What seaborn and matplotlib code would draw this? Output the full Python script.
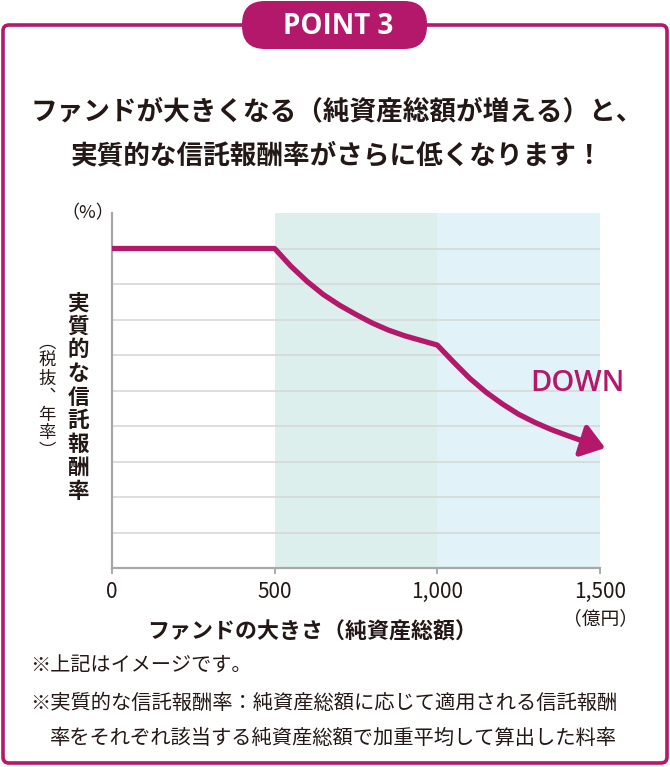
import seaborn as sns
import matplotlib.pyplot as plt
import pandas as pd
from matplotlib.patches import FancyBboxPatch

# data (y in grid units, 10 steps)
fund_size = [0, 500, 550, 600, 650, 700, 750, 800, 850, 900, 950, 1000,
             1050, 1100, 1150, 1200, 1250, 1300, 1350, 1400, 1440]
fee_rate = [9.0, 9.0, 8.5, 8.07, 7.7, 7.4, 7.14, 6.9, 6.7, 6.54, 6.41, 6.28,
            5.8, 5.34, 4.95, 4.62, 4.33, 4.1, 3.9, 3.73, 3.6]
arrow_tip = (1516, 3.38)
zone_edges = [500, 1000, 1500]
zone_colors = ['#dcefec', '#e1f2f9']
x_ticks = [0, 500, 1000, 1500]
x_tick_labels = ['0', '500', '1,000', '1,500']
grid_levels = [1, 2, 3, 4, 5, 6, 7, 8, 9]

MAGENTA = '#b3186b'
INK = '#231815'
sns.set_theme(style='white')
plt.rcParams['font.family'] = ['Noto Sans CJK JP', 'DejaVu Sans']

fig = plt.figure(figsize=(6.7, 7.67), dpi=100)

# overlay in pixel coordinates for frame and texts
ov = fig.add_axes([0, 0, 1, 1], zorder=0)
ov.set_xlim(0, 670)
ov.set_ylim(767, 0)
ov.axis('off')

ov.add_patch(FancyBboxPatch((3, 25), 664, 738, boxstyle='round,pad=0,rounding_size=6',
                            fc='white', ec=MAGENTA, lw=2.6))
ov.add_patch(FancyBboxPatch((242, 1), 185, 48, boxstyle='round,pad=0,rounding_size=23',
                            fc=MAGENTA, ec='none'))
ov.text(338, 26, 'POINT 3', color='white', fontsize=20, fontweight='bold',
        ha='center', va='center', family=['Open Sans', 'DejaVu Sans'])

ov.text(337, 112, 'ファンドが大きくなる（純資産総額が増える）と、', fontsize=19.2,
        fontweight='bold', ha='center', va='center', color=INK)
ov.text(337, 156, '実質的な信託報酬率がさらに低くなります！', fontsize=19.2,
        fontweight='bold', ha='center', va='center', color=INK)

ov.text(88, 213, '（%）', fontsize=13, ha='center', va='center', color=INK)
ov.text(78, 397, '\n'.join('実質的な信託報酬率'), fontsize=15.5, fontweight='bold',
        ha='center', va='center', linespacing=1.15, color=INK)
ov.text(47, 397, '\n'.join('︵税抜︑年率︶'), fontsize=12.5, ha='center', va='center',
        linespacing=1.0, color=INK)

ov.text(600, 619, '（億円）', fontsize=13.5, ha='center', va='center', color=INK)
ov.text(312, 632, 'ファンドの大きさ（純資産総額）', fontsize=15.8, fontweight='bold',
        ha='center', va='center', color=INK)

ov.text(30, 666, '※上記はイメージです。', fontsize=14.5, ha='left', va='center', color=INK)
ov.text(30, 703, '※実質的な信託報酬率：純資産総額に応じて適用される信託報酬',
        fontsize=14.6, ha='left', va='center', color=INK)
ov.text(50, 738, '率をそれぞれ該当する純資産総額で加重平均して算出した料率',
        fontsize=14.6, ha='left', va='center', color=INK)

# main chart
ax = fig.add_axes([112 / 670, 1 - 568 / 767, 488 / 670, 355 / 767], zorder=2)
ax.patch.set_alpha(0)
for (x0, x1), c in zip(zip(zone_edges[:-1], zone_edges[1:]), zone_colors):
    ax.axvspan(x0, x1, color=c, lw=0, zorder=0)
for g in grid_levels:
    ax.axhline(g, color='#d6d8d8', lw=1.2, zorder=1)

df = pd.DataFrame({'size': fund_size, 'rate': fee_rate})
sns.lineplot(data=df, x='size', y='rate', color=MAGENTA, lw=3.8, ax=ax, zorder=3,
             solid_joinstyle='round', solid_capstyle='butt')
ax.annotate('', xy=arrow_tip, xytext=(fund_size[-1], fee_rate[-1]),
            arrowprops=dict(arrowstyle='-|>,head_length=0.7,head_width=0.5',
                            mutation_scale=20, color=MAGENTA, lw=3.8,
                            shrinkA=0, shrinkB=0),
            annotation_clip=False, zorder=4)
ax.text(1432, 5.2, 'DOWN', color=MAGENTA, fontsize=21, fontweight='semibold',
        ha='center', va='center', family=['Open Sans', 'DejaVu Sans'])

ax.set_xlim(0, 1500)
ax.set_ylim(0, 10)
ax.set_xticks(x_ticks)
ax.set_xticklabels(x_tick_labels, fontsize=15, color=INK)
ax.set_yticks([])
ax.set_xlabel('')
ax.set_ylabel('')
ax.tick_params(axis='x', length=4, color='#a0a0a0', pad=5, bottom=True)
for s in ['top', 'right']:
    ax.spines[s].set_visible(False)
for s in ['left', 'bottom']:
    ax.spines[s].set_color('#a8a8a8')
    ax.spines[s].set_linewidth(1.6)

fig.savefig('out.png', dpi=100)
